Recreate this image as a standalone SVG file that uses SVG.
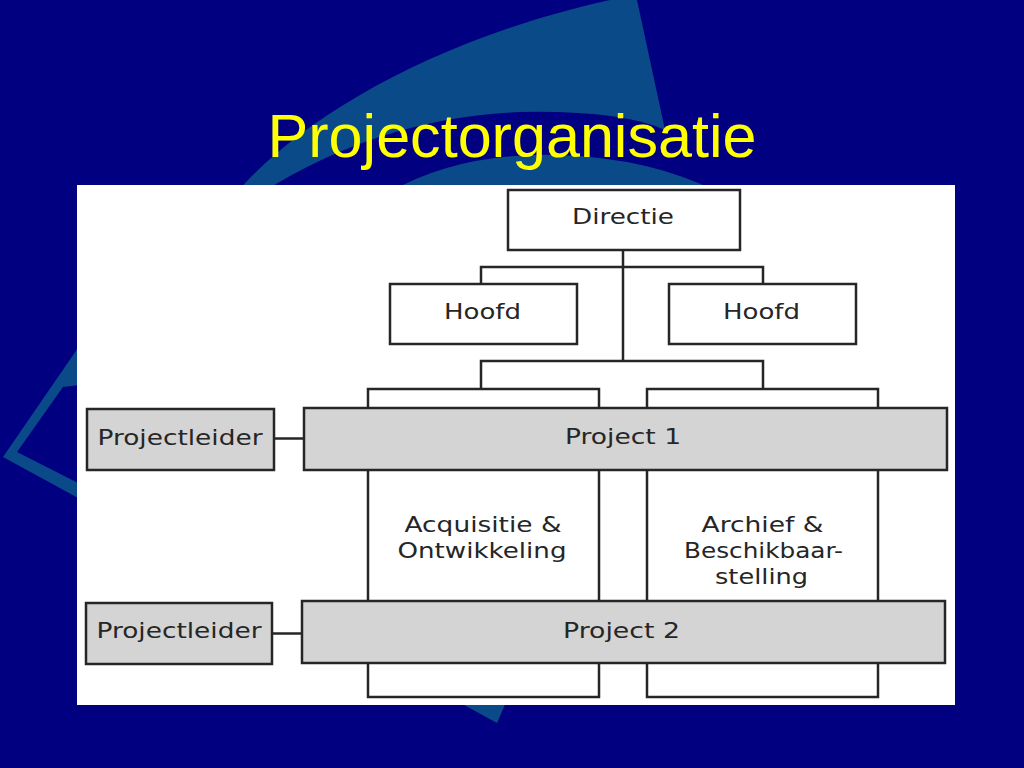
<svg xmlns="http://www.w3.org/2000/svg" width="1024" height="768" viewBox="0 0 1024 768">
  <style>
    .swoosh { fill: #0b4a88; }
    .box { fill: #ffffff; stroke: #262626; stroke-width: 2.5; }
    .gbox { fill: #d4d4d4; stroke: #262626; stroke-width: 2.5; }
    .conn { fill: none; stroke: #262626; stroke-width: 2.5; }
    .lbl { font-family: "DejaVu Sans", Verdana, sans-serif; font-size: 22px; fill: #262626; text-anchor: middle; }
    .title { font-family: "Liberation Sans", Arial, sans-serif; font-size: 61px; fill: #ffff00; text-anchor: middle; }
  </style>

  <g id="background">
    <rect x="0" y="0" width="1024" height="768" fill="#000080"/>
    <path class="swoosh" d="M237,192 C300,120 430,40 610,0 L637,0 L665,130 Q620,110 520,112 Q380,118 263,192 Z"/>
    <path class="swoosh" d="M390,192 Q460,152 560,155 Q650,158 718,192 Z"/>
    <path class="swoosh" d="M80,345 L3,457 L80,499 L80,484 L17,452 L63,387 L80,385 Z"/>
    <path class="swoosh" d="M455,700 L507,700 L497,723 Z"/>
  </g>

  <text class="title" x="512" y="157" textLength="489" lengthAdjust="spacingAndGlyphs">Projectorganisatie</text>

  <rect id="panel" x="77" y="185" width="878" height="520" fill="#ffffff"/>

  <g id="connectors">
    <path class="conn" d="M623,250 V361"/>
    <path class="conn" d="M481,284 V267 H763 V284"/>
    <path class="conn" d="M481,389 V361 H763 V389"/>
    <path class="conn" d="M274,438.5 H304"/>
    <path class="conn" d="M272,633.5 H302"/>
  </g>

  <g id="col-acquisitie">
    <rect class="box" x="368" y="389" width="231" height="308"/>
    <text class="lbl" x="483" y="532" textLength="157" lengthAdjust="spacingAndGlyphs">Acquisitie &amp;</text>
    <text class="lbl" x="482" y="558" textLength="169" lengthAdjust="spacingAndGlyphs">Ontwikkeling</text>
  </g>

  <g id="col-archief">
    <rect class="box" x="647" y="389" width="231" height="308"/>
    <text class="lbl" x="762.5" y="532" textLength="122" lengthAdjust="spacingAndGlyphs">Archief &amp;</text>
    <text class="lbl" x="763.5" y="558" textLength="159" lengthAdjust="spacingAndGlyphs">Beschikbaar-</text>
    <text class="lbl" x="761.5" y="584" textLength="93" lengthAdjust="spacingAndGlyphs">stelling</text>
  </g>

  <g id="directie">
    <rect class="box" x="508" y="190" width="232" height="60"/>
    <text class="lbl" x="623" y="224" textLength="102" lengthAdjust="spacingAndGlyphs">Directie</text>
  </g>

  <g id="hoofd-left">
    <rect class="box" x="390" y="284" width="187" height="60"/>
    <text class="lbl" x="482.5" y="319" textLength="77" lengthAdjust="spacingAndGlyphs">Hoofd</text>
  </g>

  <g id="hoofd-right">
    <rect class="box" x="669" y="284" width="187" height="60"/>
    <text class="lbl" x="761.5" y="319" textLength="77" lengthAdjust="spacingAndGlyphs">Hoofd</text>
  </g>

  <g id="project-1">
    <rect class="gbox" x="304" y="408" width="643" height="62"/>
    <text class="lbl" x="623" y="444" textLength="116" lengthAdjust="spacingAndGlyphs">Project 1</text>
  </g>

  <g id="project-2">
    <rect class="gbox" x="302" y="601" width="643" height="62"/>
    <text class="lbl" x="621.5" y="638" textLength="117" lengthAdjust="spacingAndGlyphs">Project 2</text>
  </g>

  <g id="projectleider-1">
    <rect class="gbox" x="87" y="409" width="187" height="61"/>
    <text class="lbl" x="180" y="445" textLength="165" lengthAdjust="spacingAndGlyphs">Projectleider</text>
  </g>

  <g id="projectleider-2">
    <rect class="gbox" x="86" y="603" width="186" height="61"/>
    <text class="lbl" x="179" y="638" textLength="165" lengthAdjust="spacingAndGlyphs">Projectleider</text>
  </g>
</svg>
